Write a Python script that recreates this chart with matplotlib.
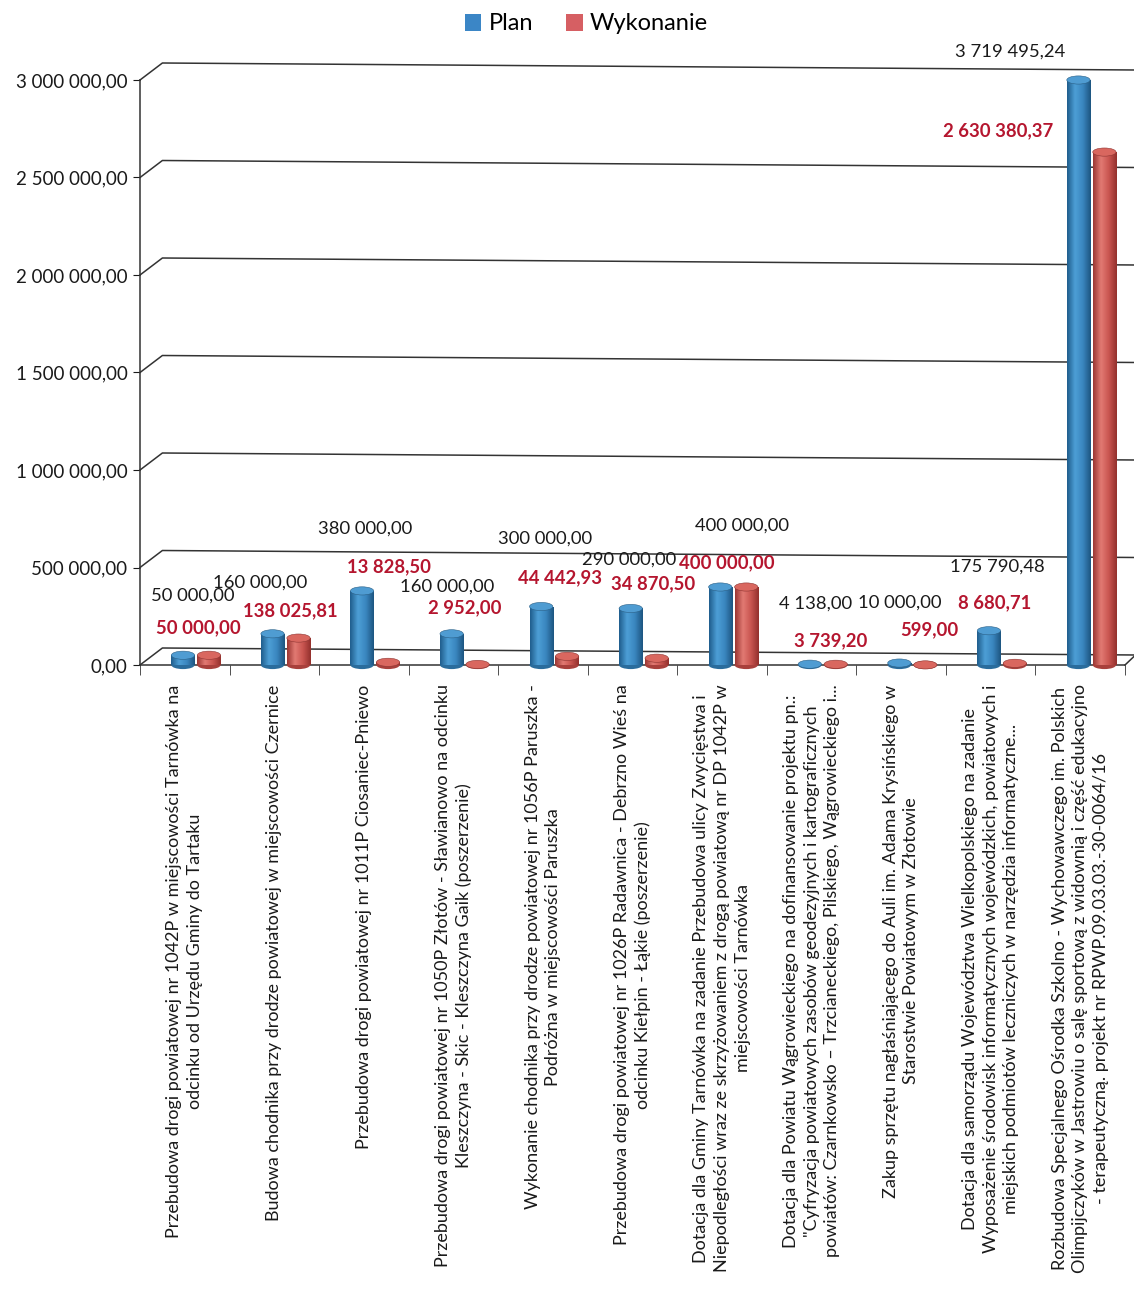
import matplotlib
matplotlib.use("Agg")
import matplotlib.pyplot as plt
import numpy as np
from matplotlib.colors import LinearSegmentedColormap
from matplotlib.patches import Ellipse, Patch
from matplotlib.ticker import FuncFormatter

plt.rcParams['font.family'] = ['Lato', 'DejaVu Sans']

# --- data -------------------------------------------------------------
categories = [
    "Przebudowa drogi powiatowej nr 1042P w miejscowości Tarnówka na\nodcinku od Urzędu Gminy do Tartaku",
    "Budowa chodnika przy drodze powiatowej w miejscowości Czernice",
    "Przebudowa drogi powiatowej nr 1011P Ciosaniec-Pniewo",
    "Przebudowa drogi powiatowej nr 1050P Złotów - Sławianowo na odcinku\nKleszczyna - Skic - Kleszczyna Gaik (poszerzenie)",
    "Wykonanie chodnika przy drodze powiatowej nr 1056P Paruszka -\nPodróżna w miejscowości Paruszka",
    "Przebudowa drogi powiatowej nr 1026P Radawnica - Debrzno Wieś na\nodcinku Kiełpin - Łąkie (poszerzenie)",
    "Dotacja dla Gminy Tarnówka na zadanie Przebudowa ulicy Zwycięstwa i\nNiepodległości wraz ze skrzyżowaniem z drogą powiatową nr DP 1042P w\nmiejscowości Tarnówka",
    "Dotacja dla Powiatu Wągrowieckiego na dofinansowanie projektu pn.:\n\"Cyfryzacja powiatowych zasobów geodezyjnych i kartograficznych\npowiatów: Czarnkowsko – Trzcianeckiego, Pilskiego, Wągrowieckiego i...",
    "Zakup sprzętu nagłaśniającego do Auli im. Adama Krysińskiego w\nStarostwie Powiatowym w Złotowie",
    "Dotacja dla samorządu Województwa Wielkopolskiego na zadanie\nWyposażenie środowisk informatycznych wojewódzkich, powiatowych i\nmiejskich podmiotów leczniczych w narzędzia informatyczne...",
    "Rozbudowa Specjalnego Ośrodka Szkolno - Wychowawczego im. Polskich\nOlimpijczyków w Jastrowiu o salę sportową z widownią i część edukacyjno\n- terapeutyczną. projekt nr RPWP.09.03.03.-30-0064/16",
]
plan = [50000.00, 160000.00, 380000.00, 160000.00, 300000.00, 290000.00,
        400000.00, 4138.00, 10000.00, 175790.48, 3719495.24]
wykonanie = [50000.00, 138025.81, 13828.50, 2952.00, 44442.93, 34870.50,
             400000.00, 3739.20, 599.00, 8680.71, 2630380.37]

# label offsets (pixels) from the top of each bar, as placed in the original
plan_off = [(10, 60), (-12, 51), (3, 62), (-4, 47), (4, 68), (-2, 49),
            (22, 61), (6, 61), (0, 60), (8, 64), (-68, 28)]
wyk_off = [(-11, 27), (-8, 27), (1, 96), (-13, 57), (-7, 79), (-4, 74),
           (-19, 24), (-5, 24), (4, 35), (-20, 61), (-106, 21)]

YMAX = 3000000


def pl(v):
    return f"{v:,.2f}".replace(",", " ").replace(".", ",")


fig = plt.figure(figsize=(11.34, 13.01), dpi=100)
ax = fig.add_axes([140/1134, 636/1301, 985/1134, 585/1301])
ax.set_xlim(-0.5, 10.5)
ax.set_ylim(0, YMAX)

x = np.arange(len(categories))
w = 0.26
blue_cm = LinearSegmentedColormap.from_list("b", ["#1f5d8c", "#4d9fd6", "#3a86bf", "#1d5580"])
red_cm = LinearSegmentedColormap.from_list("r", ["#9b3633", "#e27a73", "#c95550", "#93302d"])
grad = np.linspace(0, 1, 64).reshape(1, -1)
eh = 42000  # ellipse height in data units (~8 px)

for vals, pos, cm, cap, base in [(plan, x - 0.02, blue_cm, "#4f9cd2", "#2a6c9c"),
                                 (wykonanie, x + 0.27, red_cm, "#d9675f", "#a8403c")]:
    bars = ax.bar(pos, vals, width=w, color="none", edgecolor="none", zorder=3)
    for rect, v in zip(bars, vals):
        x0 = rect.get_x()
        top = min(v, YMAX)
        im = ax.imshow(grad, extent=(x0, x0 + w, 0, top), aspect="auto", cmap=cm,
                       zorder=3, interpolation="bicubic")
        im.set_clip_path(rect)
        xc = x0 + w / 2
        ax.add_patch(Ellipse((xc, 0), w, eh, facecolor=base, edgecolor="none",
                             zorder=2.8, clip_on=False))
        ax.add_patch(Ellipse((xc, top), w, eh, facecolor=cap,
                             edgecolor="#2a5f86" if cm is blue_cm else "#8e3532",
                             linewidth=0.4, zorder=4, clip_on=False))

ax.set_xlim(-0.5, 10.5)
ax.set_ylim(0, YMAX)

# data labels
for i in range(len(categories)):
    ax.annotate(pl(plan[i]), (i - 0.02, min(plan[i], YMAX)), xytext=plan_off[i],
                textcoords="offset pixels", ha="center", va="center",
                fontsize=13.3, color="#1a1a1a", zorder=6, annotation_clip=False)
    ax.annotate(pl(wykonanie[i]), (i + 0.27, min(wykonanie[i], YMAX)), xytext=wyk_off[i],
                textcoords="offset pixels", ha="center", va="center",
                fontsize=13.3, color="#b5162f", fontweight="bold", zorder=6,
                annotation_clip=False)

# back-wall gridlines with the 3D offset
yt = np.arange(0, YMAX + 1, 500000)
d = 17 * YMAX / 585
s = 7 * YMAX / 585
for v in yt:
    ax.plot([-0.5, -0.25, 10.62], [v, v + d, v + d - s], color="#333333",
            lw=1.1, clip_on=False, zorder=1)
ax.plot([10.5, 10.62], [0, d * 0.6], color="#333333", lw=1.1, clip_on=False, zorder=1)

ax.yaxis.set_major_formatter(FuncFormatter(lambda v, p: pl(v)))
ax.set_yticks(yt)
ax.tick_params(axis="y", length=5, labelsize=13.5, pad=4, colors="#1a1a1a")

ax.set_xticks(x)
ax.set_xticklabels(categories, rotation=90, multialignment="center",
                   fontsize=13, color="#1a1a1a", linespacing=1.35)
ax.set_xticks(np.arange(-0.5, 11, 1), minor=True)
ax.tick_params(axis="x", which="major", length=0, pad=14)
ax.tick_params(axis="x", which="minor", length=7, color="#333333")

for sp in ["top", "right"]:
    ax.spines[sp].set_visible(False)
for sp in ["left", "bottom"]:
    ax.spines[sp].set_color("#333333")
    ax.spines[sp].set_linewidth(1.1)

handles = [Patch(facecolor="#3b86c6", label="Plan"),
           Patch(facecolor="#d65f63", label="Wykonanie")]
fig.legend(handles=handles, loc="center", bbox_to_anchor=(0.517, 1 - 24 / 1301),
           ncol=2, frameon=False, fontsize=17, handlelength=0.7, handleheight=0.7,
           handletextpad=0.3, columnspacing=1.4)

fig.savefig("out.png", dpi=100)
